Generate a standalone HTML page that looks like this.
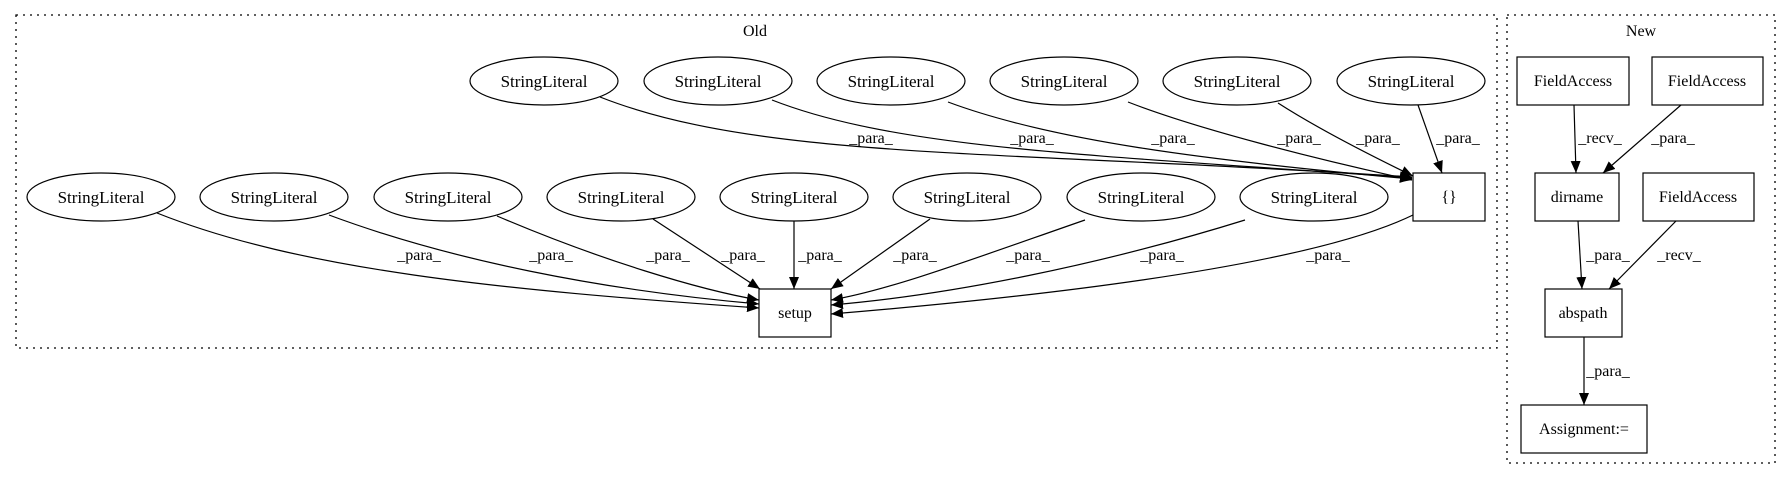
<!DOCTYPE html>
<html><head><meta charset="utf-8"><style>html,body{margin:0;padding:0;background:#fff}svg{display:block}text{font-family:"Liberation Serif",serif;font-size:16px;fill:#000}.s{font-size:17px}</style></head><body>
<svg width="1791" height="480" viewBox="0 0 1791 480" xmlns="http://www.w3.org/2000/svg">
<defs><marker id="a" markerWidth="12" markerHeight="10" refX="12" refY="5" orient="auto" markerUnits="userSpaceOnUse"><path d="M0,0 L12,5 L0,10 z" fill="#000"/></marker></defs>
<g fill="none" stroke="#000" stroke-width="1.3" stroke-dasharray="2,5">
<rect x="16" y="15" width="1481" height="333"/>
<rect x="1507" y="15" width="268" height="448"/>
</g>
<text x="755" y="36" text-anchor="middle">Old</text>
<text x="1641" y="36" text-anchor="middle">New</text>
<g fill="#fff" stroke="#000" stroke-width="1.2">
<ellipse cx="544" cy="81" rx="74" ry="24"/><ellipse cx="718" cy="81" rx="74" ry="24"/><ellipse cx="891" cy="81" rx="74" ry="24"/><ellipse cx="1064" cy="81" rx="74" ry="24"/><ellipse cx="1237" cy="81" rx="74" ry="24"/><ellipse cx="1411" cy="81" rx="74" ry="24"/>
<ellipse cx="101" cy="197" rx="74" ry="24"/><ellipse cx="274" cy="197" rx="74" ry="24"/><ellipse cx="448" cy="197" rx="74" ry="24"/><ellipse cx="621" cy="197" rx="74" ry="24"/><ellipse cx="794" cy="197" rx="74" ry="24"/><ellipse cx="967" cy="197" rx="74" ry="24"/><ellipse cx="1141" cy="197" rx="74" ry="24"/><ellipse cx="1314" cy="197" rx="74" ry="24"/>
<rect x="1413" y="173" width="72" height="48"/><rect x="759" y="289" width="72" height="48"/>
<rect x="1517" y="57" width="112" height="48"/><rect x="1652" y="57" width="111" height="48"/>
<rect x="1535" y="173" width="84" height="48"/><rect x="1643" y="173" width="111" height="48"/>
<rect x="1545" y="289" width="77" height="48"/><rect x="1521" y="405" width="126" height="48"/>
</g>
<g text-anchor="middle">
<g class="s">
<text class="s" x="544" y="87">StringLiteral</text><text class="s" x="718" y="87">StringLiteral</text><text class="s" x="891" y="87">StringLiteral</text><text class="s" x="1064" y="87">StringLiteral</text><text class="s" x="1237" y="87">StringLiteral</text><text class="s" x="1411" y="87">StringLiteral</text>
<text class="s" x="101" y="203">StringLiteral</text><text class="s" x="274" y="203">StringLiteral</text><text class="s" x="448" y="203">StringLiteral</text><text class="s" x="621" y="203">StringLiteral</text><text class="s" x="794" y="203">StringLiteral</text><text class="s" x="967" y="203">StringLiteral</text><text class="s" x="1141" y="203">StringLiteral</text><text class="s" x="1314" y="203">StringLiteral</text>
</g>
<text x="1449" y="202">{}</text><text x="795" y="318">setup</text>
<text x="1573" y="86">FieldAccess</text><text x="1707" y="86">FieldAccess</text>
<text x="1577" y="202">dirname</text><text x="1698" y="202">FieldAccess</text>
<text x="1583" y="318">abspath</text><text x="1584" y="434">Assignment:=</text>
</g>
<g fill="none" stroke="#000" stroke-width="1.2" marker-end="url(#a)">
<path d="M600,97 C760,160 1000,150 1412,177"/>
<path d="M772,100 C900,150 1100,155 1412,178"/>
<path d="M948,102 C1050,140 1200,160 1412,179"/>
<path d="M1128,102 C1200,130 1320,160 1412,180"/>
<path d="M1278,103 C1320,130 1380,160 1413,176"/>
<path d="M1418,105 L1442,173"/>
<path d="M157,213 C300,270 500,290 759,308"/>
<path d="M329,215 C450,260 600,290 759,304"/>
<path d="M497,216 C600,260 700,290 759,300"/>
<path d="M653,219 L760,289"/>
<path d="M794,221 L794,289"/>
<path d="M930,219 L831,289"/>
<path d="M1085,220 C970,260 890,290 831,300"/>
<path d="M1245,220 C1100,265 950,295 831,305"/>
<path d="M1413,215 C1300,270 1000,300 831,314"/>
<path d="M1574,105 L1576,173"/>
<path d="M1681,105 L1603,173"/>
<path d="M1578,221 L1582,289"/>
<path d="M1676,221 L1609,289"/>
<path d="M1584,337 L1584,405"/>
</g>
<g text-anchor="middle">
<text x="871" y="143">_para_</text><text x="1032" y="143">_para_</text><text x="1173" y="143">_para_</text><text x="1299" y="143">_para_</text><text x="1378" y="143">_para_</text><text x="1458" y="143">_para_</text>
<text x="419" y="260">_para_</text><text x="551" y="260">_para_</text><text x="668" y="260">_para_</text><text x="743" y="260">_para_</text><text x="820" y="260">_para_</text><text x="915" y="260">_para_</text><text x="1028" y="260">_para_</text><text x="1162" y="260">_para_</text><text x="1328" y="260">_para_</text>
<text x="1600" y="143">_recv_</text><text x="1673" y="143">_para_</text>
<text x="1608" y="260">_para_</text><text x="1679" y="260">_recv_</text>
<text x="1608" y="376">_para_</text>
</g>
</svg>
</body></html>
